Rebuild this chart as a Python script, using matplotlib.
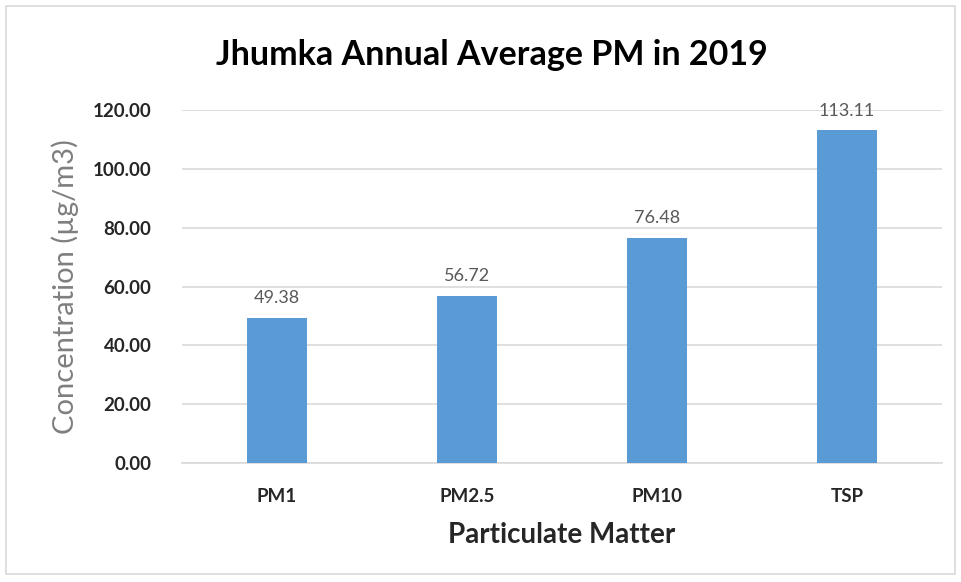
import matplotlib.pyplot as plt
from matplotlib.patches import FancyBboxPatch

categories = ['PM1', 'PM2.5', 'PM10', 'TSP']
values = [49.38, 56.72, 76.48, 113.11]
yticks = [0, 20, 40, 60, 80, 100, 120]

plt.rcParams['font.family'] = ['Lato', 'DejaVu Sans']

fig = plt.figure(figsize=(9.61, 5.82), dpi=100)
ax = fig.add_axes([182 / 961, 1 - 463 / 582, 760 / 961, 353 / 582])

# chart border
fig.patches.append(FancyBboxPatch((6 / 961, 8 / 582), 949 / 961, 568 / 582,
                                  boxstyle='square,pad=0', transform=fig.transFigure,
                                  fill=False, edgecolor='#d9d9d9', linewidth=1.2))

x = range(len(categories))
bars = ax.bar(x, values, width=0.316, color='#5B9BD5', zorder=3)
for b, v in zip(bars, values):
    ax.text(b.get_x() + b.get_width() / 2, v + 4, f'{v:.2f}', ha='center', va='bottom',
            fontsize=13, color='#595959')

ax.set_xlim(-0.5, 3.5)
ax.set_ylim(0, 120)
ax.set_yticks(yticks)
ax.set_yticklabels([f'{t:.2f}' for t in yticks], fontsize=13.5, fontweight='bold', color='#262626')
ax.set_xticks(list(x))
ax.set_xticklabels(categories, fontsize=13.5, fontweight='bold', color='#262626')
ax.grid(axis='y', color='#d9d9d9', linewidth=1.2, zorder=0)
ax.tick_params(length=0, pad=22)
ax.tick_params(axis='x', pad=18)
for s in ['top', 'right', 'left']:
    ax.spines[s].set_visible(False)
ax.spines['bottom'].set_color('#d9d9d9')
ax.spines['bottom'].set_linewidth(1.2)

ax.set_ylabel('Concentration (µg/m3)', fontsize=21, color='#7f7f7f', labelpad=10)
ax.set_xlabel('Particulate Matter', fontsize=20, fontweight='bold', color='#262626', labelpad=12)
fig.text(492 / 961, 1 - 55 / 582, 'Jhumka Annual Average PM in 2019', ha='center', va='center',
         fontsize=24.5, fontweight='bold', color='#000000')

plt.savefig('out.png', dpi=100)
